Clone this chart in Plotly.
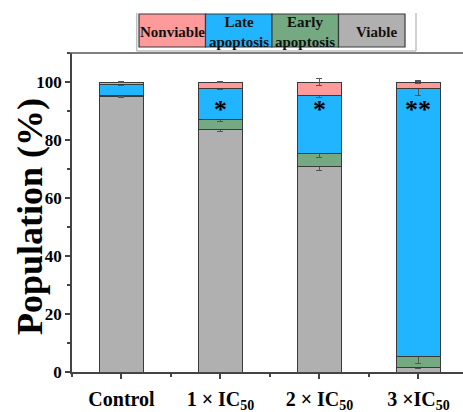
import plotly.graph_objects as go

categories = ["Control", "1 × IC<sub>50</sub>", "2 × IC<sub>50</sub>", "3 ×IC<sub>50</sub>"]
series_names = ["Viable", "Early<br>apoptosis", "Late<br>apoptosis", "Nonviable"]
viable = [95.0, 83.5, 70.7, 1.7]
early = [0.3, 3.5, 4.7, 3.8]
late = [3.9, 10.7, 20.0, 92.4]
nonviable = [0.8, 2.3, 4.6, 2.1]
viable_err = [0.3, 0.5, 1.15, 0.5]
early_err = [0.2, 0.5, 1.6, 2.4]
late_err = [0.3, 0.3, 0.75, 2.4]
nonviable_err = [0.3, 0.3, 1.1, 0.5]
significance = ["", "*", "*", "**"]
y_ticks = [0, 20, 40, 60, 80, 100]
y_title = "Population (%)"

colors = ["#b0b0b0", "#74a982", "#21b4ff", "#ff9a9a"]
values = [viable, early, late, nonviable]
errors = [viable_err, early_err, late_err, nonviable_err]

FONT = "Liberation Serif"
W, H = 463, 412
L, R, T, B = 72, 0, 53, 40
PW, PH = W - L - R, H - T - B

x = list(range(len(categories)))

fig = go.Figure()
for name, vals, errs, c in zip(series_names, values, errors, colors):
    fig.add_trace(go.Bar(
        x=x, y=vals, name=name, marker=dict(color=c, line=dict(color="#3a3a3a", width=1)),
        width=0.45,
        error_y=dict(type="data", array=errs, visible=True, color="#555555", thickness=1, width=3),
        showlegend=False,
    ))

# significance marks
for xi, s in zip(x, significance):
    if s:
        fig.add_annotation(x=xi, y=90.5, text=s, showarrow=False,
                           font=dict(family=FONT, size=26, color="black", weight="bold"),
                           xref="x", yref="y")

def px2x(px):
    return (px - L) / PW

def py2y(py):
    return (H - B - py) / PH

# y-axis title as rotated annotation
fig.add_annotation(x=px2x(30), y=py2y(217), xref="paper", yref="paper", text=y_title,
                   textangle=-90, showarrow=False, xanchor="center", yanchor="middle",
                   font=dict(family=FONT, size=36, color="black", weight="bold"))

shapes = []
# top frame line
shapes.append(dict(type="line", xref="paper", yref="paper", x0=px2x(69), x1=px2x(463),
                   y0=1, y1=1, line=dict(color="#555555", width=1.5)))
# legend frame (light)
for (a, b, c2, d) in [(136.7, 13, 136.7, 51), (416, 13, 416, 51), (136.7, 51, 416, 51)]:
    shapes.append(dict(type="line", xref="paper", yref="paper", x0=px2x(a), x1=px2x(c2),
                       y0=py2y(b), y1=py2y(d), line=dict(color="#c0c0c0", width=1.5)))

legend_order = [3, 2, 1, 0]
legend_names = ["Nonviable", "Late<br>apoptosis", "Early<br>apoptosis", "Viable"]
box_x = [139, 205.5, 272, 338.5, 405]
for i, idx in enumerate(legend_order):
    x0, x1 = box_x[i], box_x[i + 1]
    shapes.append(dict(type="rect", xref="paper", yref="paper", x0=px2x(x0), x1=px2x(x1),
                       y0=py2y(47), y1=py2y(14), fillcolor=colors[idx],
                       line=dict(color="#3a3a3a", width=1.2)))
    cx = (x0 + x1) / 2 + (5 if i == 3 else 0)
    fig.add_annotation(x=px2x(cx), y=py2y(32), xref="paper", yref="paper",
                       text=legend_names[i], showarrow=False,
                       font=dict(family=FONT, size=15, color="#111111", weight="bold"),
                       xanchor="center", yanchor="middle")

fig.update_layout(
    width=W, height=H,
    margin=dict(l=L, r=R, t=T, b=B, pad=0, autoexpand=False),
    paper_bgcolor="white", plot_bgcolor="white",
    barmode="stack",
    shapes=shapes,
    xaxis=dict(
        range=[-0.5, 3.45], tickvals=x, ticktext=["<b>" + c + "</b>" for c in categories],
        showline=True, linecolor="#444444", linewidth=1.5, ticks="outside", ticklen=5,
        tickcolor="#444444", tickwidth=1.5, showgrid=False, zeroline=False,
        minor=dict(dtick=0.5, tick0=0.5, ticks="outside", ticklen=3, tickcolor="#444444", tickwidth=1.5),
        tickfont=dict(family=FONT, size=20, color="black"),
        ticklabelstandoff=3, automargin=False,
    ),
    yaxis=dict(
        range=[0, 110], tickvals=y_ticks, showline=True, linecolor="#444444", linewidth=1.5,
        ticks="outside", ticklen=5, tickcolor="#444444", tickwidth=1.5,
        minor=dict(dtick=10, tick0=0, ticks="outside", ticklen=3, tickcolor="#444444", tickwidth=1.5),
        showgrid=False, zeroline=False, automargin=False,
        tickfont=dict(family=FONT, size=17, color="black", weight="bold"),
    ),
)

fig.write_html("out.html")
